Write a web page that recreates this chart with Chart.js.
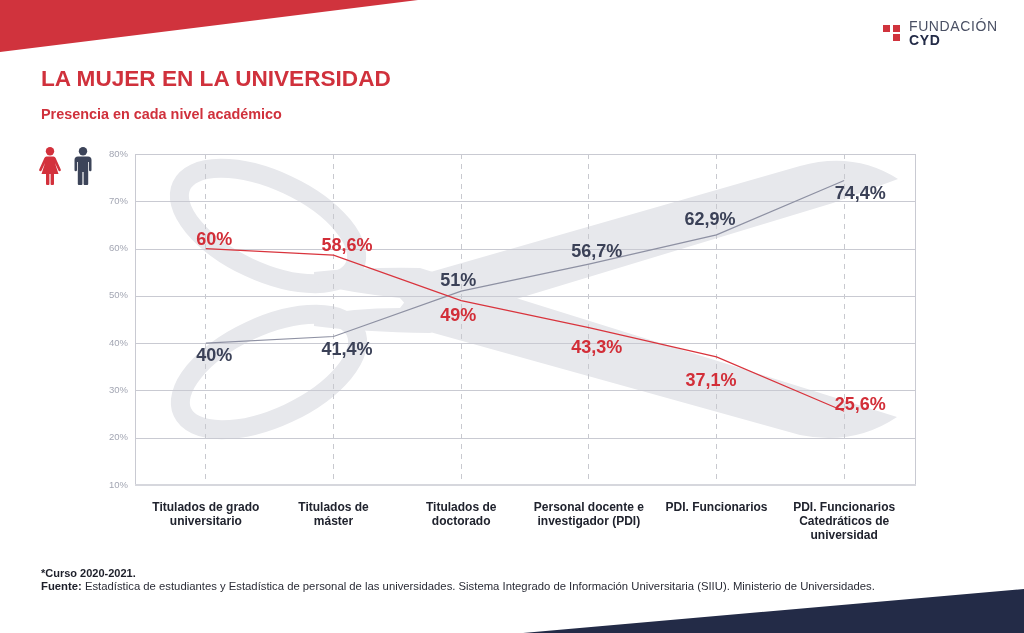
<!DOCTYPE html>
<html lang="es">
<head>
<meta charset="utf-8">
<title>La mujer en la universidad</title>
<script src="https://cdn.jsdelivr.net/npm/chart.js@4.4.1/dist/chart.umd.min.js"></script>
<style>
  html, body { margin: 0; padding: 0; background: #fff; }
  body {
    width: 1024px; height: 633px; position: relative; overflow: hidden;
    font-family: "Liberation Sans", Arial, sans-serif;
  }
  #chartBox { position: absolute; left: 0; top: 0; width: 1024px; height: 633px; }
  .abs { position: absolute; white-space: nowrap; line-height: 1; }
  .title { left: 41px; top: 68px; font-size: 22.6px; font-weight: bold; color: #d0313c; }
  .subtitle { left: 41px; top: 107px; font-size: 14.4px; font-weight: bold; color: #d0313c; }
  .curso { left: 41px; top: 568px; font-size: 11px; font-weight: bold; color: #1d1f2a; }
  .fuente { left: 41px; top: 580.5px; font-size: 11.3px; color: #2a2c36; }
  .fuente b { color: #1d1f2a; }
  .logo1 { left: 909px; top: 19px; font-size: 14px; color: #4a5064; letter-spacing: 0.6px; }
  .logo2 { left: 909px; top: 33px; font-size: 14px; font-weight: bold; color: #232b47; letter-spacing: 0.6px; }
</style>
</head>
<body>

<svg width="1024" height="633" style="position:absolute;left:0;top:0">
  <polygon points="0,0 418,0 0,52" fill="#d0333d"/>
  <polygon points="523,633 1024,589 1024,633" fill="#232b47"/>
  <rect x="883" y="25" width="7" height="7" fill="#d0333d"/>
  <rect x="893" y="25" width="7" height="7" fill="#d0333d"/>
  <rect x="893" y="34" width="7" height="7" fill="#d0333d"/>
</svg>

<!-- iconos mujer / hombre -->
<svg style="position:absolute;left:38px;top:147px" width="24" height="38" viewBox="0 0 24 38">
  <circle cx="12" cy="4.2" r="4.2" fill="#d3313c"/>
  <path d="M8.5 9.5 H15.5 Q17 9.5 17.6 11 L22.8 22.5 Q23.2 24 21.8 24.3 Q20.8 24.4 20.3 23.3 L17 16 L20.5 27 H16 V37 Q16 38 15 38 H13.4 Q12.6 38 12.6 37 V27 H11.4 V37 Q11.4 38 10.6 38 H9 Q8 38 8 37 V27 H3.5 L7 16 L3.7 23.3 Q3.2 24.4 2.2 24.3 Q0.8 24 1.2 22.5 L6.4 11 Q7 9.5 8.5 9.5 Z" fill="#d3313c"/>
</svg>
<svg style="position:absolute;left:73px;top:147px" width="20" height="38" viewBox="0 0 20 38">
  <circle cx="10" cy="4.2" r="4.2" fill="#3c4459"/>
  <path d="M5 9.5 H15 Q18.5 9.5 18.5 13 V23 Q18.5 24.3 17.3 24.3 Q16 24.3 16 23 V15 H15.2 V37 Q15.2 38 14.2 38 H11.5 Q10.6 38 10.6 37 V25 H9.4 V37 Q9.4 38 8.5 38 H5.8 Q4.8 38 4.8 37 V15 H4 V23 Q4 24.3 2.7 24.3 Q1.5 24.3 1.5 23 V13 Q1.5 9.5 5 9.5 Z" fill="#3c4459"/>
</svg>

<div id="chartBox"><canvas id="myChart"></canvas></div>

<div class="abs title">LA MUJER EN LA UNIVERSIDAD</div>
<div class="abs subtitle">Presencia en cada nivel académico</div>
<div class="abs logo1">FUNDACIÓN</div>
<div class="abs logo2">CYD</div>
<div class="abs curso">*Curso 2020-2021.</div>
<div class="abs fuente"><b>Fuente:</b> Estadística de estudiantes y Estadística de personal de las universidades. Sistema Integrado de Información Universitaria (SIIU). Ministerio de Universidades.</div>

<script>
// datos
const categorias = [
  ["Titulados de grado", "universitario"],
  ["Titulados de", "máster"],
  ["Titulados de", "doctorado"],
  ["Personal docente e", "investigador (PDI)"],
  ["PDI. Funcionarios"],
  ["PDI. Funcionarios", "Catedráticos de", "universidad"],
];
const mujeres = [60, 58.6, 49, 43.3, 37.1, 25.6];
const hombres = [40, 41.4, 51, 56.7, 62.9, 74.4];
const yMin = 10;
const yMax = 80;
const yPaso = 10;

// donde va cada etiqueta respecto a su punto (px)
const posMujeres = [[8.5, -10], [13.5, -11], [-3, 13.5], [8, 18.5], [-5.5, 22.7], [16, -7.7]];
const posHombres = [[8.5, 11.5], [13.5, 11.5], [-3, -12], [8, -14], [-6.5, -16.7], [16, 11.6]];

const ROJO = "#d22e38";
const AZUL = "#3b4157";

Chart.defaults.font.family = "'Liberation Sans', Arial, sans-serif";

function fmt(v) {
  return String(v).replace(".", ",") + "%";
}

// tijeras de fondo, dibujadas en un marco local escalado al area del grafico
const tijeras = {
  id: "tijeras",
  beforeDraw(chart) {
    const ctx = chart.ctx;
    const ca = chart.chartArea;
    ctx.save();
    ctx.translate(ca.left, ca.top);
    ctx.scale(ca.width / 766, ca.height / 331);
    ctx.fillStyle = "#e7e8ec";
    ctx.strokeStyle = "#e7e8ec";
    ctx.lineWidth = 19;

    ctx.beginPath();
    ctx.ellipse(126, 72, 95.5, 45.5, 25 * Math.PI / 180, 0, 2 * Math.PI);
    ctx.stroke();
    ctx.beginPath();
    ctx.ellipse(127, 218, 95.5, 45.5, -25 * Math.PI / 180, 0, 2 * Math.PI);
    ctx.stroke();

    // hoja que sube
    ctx.beginPath();
    ctx.moveTo(172, 162);
    ctx.quadraticCurveTo(210, 154, 258, 154);
    ctx.lineTo(285, 119);
    ctx.lineTo(658, 12);
    ctx.quadraticCurveTo(712, -3, 756, 25);
    ctx.lineTo(691, 49);
    ctx.lineTo(371, 146);
    ctx.lineTo(288, 179);
    ctx.quadraticCurveTo(220, 178, 172, 172);
    ctx.closePath();
    ctx.fill();

    // hoja que baja
    ctx.beginPath();
    ctx.moveTo(172, 118);
    ctx.quadraticCurveTo(220, 113, 278, 114);
    ctx.lineTo(755, 263);
    ctx.quadraticCurveTo(712, 292, 658, 281);
    ctx.lineTo(288, 178);
    ctx.lineTo(258, 144);
    ctx.quadraticCurveTo(210, 139, 172, 130);
    ctx.closePath();
    ctx.fill();
    ctx.restore();
  },
};

// lineas horizontales y marco, un poco mas anchos que el area
const marco = {
  id: "marco",
  beforeDatasetsDraw(chart) {
    const ctx = chart.ctx;
    const ca = chart.chartArea;
    const y = chart.scales.y;
    const l = ca.left - 7;
    const r = ca.right + 7;
    ctx.save();
    ctx.strokeStyle = "#c9cad2";
    ctx.lineWidth = 1;
    y.ticks.forEach((t) => {
      const py = Math.round(y.getPixelForValue(t.value)) + 0.5;
      if (t.value == yMin) return;
      ctx.beginPath();
      ctx.moveTo(l, py);
      ctx.lineTo(r, py);
      ctx.stroke();
    });
    const top = y.getPixelForValue(yMax);
    const bot = y.getPixelForValue(yMin);
    ctx.beginPath();
    ctx.moveTo(l + 0.5, top);
    ctx.lineTo(l + 0.5, bot);
    ctx.moveTo(r + 0.5, top);
    ctx.lineTo(r + 0.5, bot);
    ctx.stroke();
    ctx.strokeStyle = "#d6d7dd";
    ctx.lineWidth = 2;
    ctx.beginPath();
    ctx.moveTo(l, bot);
    ctx.lineTo(r + 1, bot);
    ctx.stroke();
    ctx.restore();
  },
};

const etiquetas = {
  id: "etiquetas",
  afterDatasetsDraw(chart) {
    const ctx = chart.ctx;
    ctx.save();
    ctx.font = "bold 18px 'Liberation Sans', Arial, sans-serif";
    ctx.textAlign = "center";
    ctx.textBaseline = "alphabetic";
    const grupos = [
      { idx: 0, vals: mujeres, pos: posMujeres, color: ROJO },
      { idx: 1, vals: hombres, pos: posHombres, color: AZUL },
    ];
    grupos.forEach((g) => {
      const meta = chart.getDatasetMeta(g.idx);
      ctx.fillStyle = g.color;
      meta.data.forEach((pt, i) => {
        ctx.fillText(fmt(g.vals[i]), pt.x + g.pos[i][0], pt.y + g.pos[i][1] + 6.5);
      });
    });
    ctx.restore();
  },
};

const data = {
  labels: categorias,
  datasets: [
    {
      label: "Mujeres",
      data: mujeres,
      borderColor: "#d9343d",
      borderWidth: 1.2,
      pointRadius: 0,
      tension: 0,
      fill: false,
    },
    {
      label: "Hombres",
      data: hombres,
      borderColor: "#8e91a3",
      borderWidth: 1.2,
      pointRadius: 0,
      tension: 0,
      fill: false,
    },
  ],
};

const config = {
  type: "line",
  data: data,
  options: {
    responsive: true,
    maintainAspectRatio: false,
    animation: false,
    layout: {
      padding: { left: 102, right: 116, top: 154, bottom: 88 },
    },
    plugins: {
      legend: { display: false },
      tooltip: { enabled: false },
    },
    scales: {
      x: {
        type: "category",
        offset: true,
        grid: { offset: false, color: "#c8c9cf", lineWidth: 1, drawTicks: false },
        border: { display: false, dash: [5, 5] },
        ticks: {
          color: "#20232e",
          font: { size: 12, weight: "bold" },
          padding: 15,
          maxRotation: 0,
          autoSkip: false,
        },
        afterFit(scale) {
          scale.height = 60;
        },
      },
      y: {
        min: yMin,
        max: yMax,
        grid: { display: false, drawTicks: false },
        border: { display: false },
        ticks: {
          stepSize: yPaso,
          color: "#a3a6b3",
          font: { size: 9.5 },
          padding: 14,
          callback: (v) => v + "%",
        },
        afterFit(scale) {
          scale.width = 40;
        },
      },
    },
  },
  plugins: [tijeras, marco, etiquetas],
};

const myChart = new Chart(document.getElementById("myChart"), config);
</script>
</body>
</html>
